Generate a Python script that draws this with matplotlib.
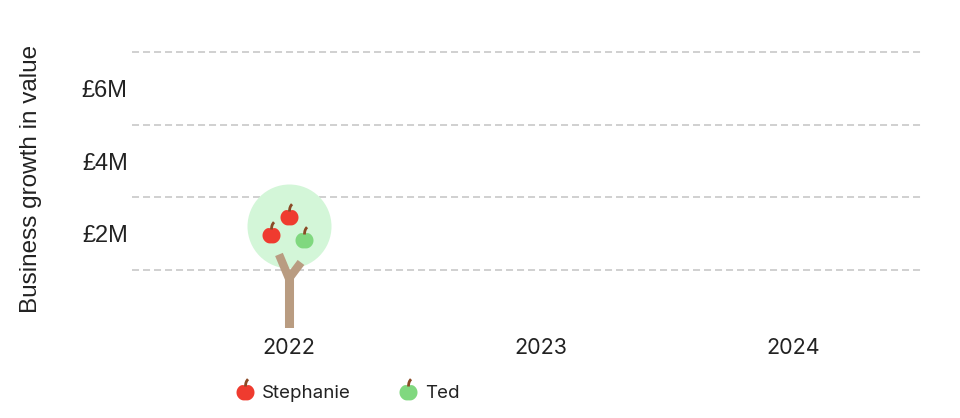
"""Apple-tree chart of business growth in value."""

import matplotlib

matplotlib.use("Agg")

import matplotlib.pyplot as plt
import numpy as np
from matplotlib.legend_handler import HandlerTuple
from matplotlib.lines import Line2D
from matplotlib.path import Path
from matplotlib.transforms import offset_copy

# data
years = ["2022", "2023", "2024"]
tree_values = [2.2, None, None]          # £M, centre of each tree canopy
stephanie_apples = [2, 0, 0]
ted_apples = [1, 0, 0]
value_ticks = [2, 4, 6]
value_tick_labels = ["£2M", "£4M", "£6M"]
grid_levels = [1, 3, 5, 7]
series_names = ["Stephanie", "Ted"]

RED = "#ef3b2f"
GREEN = "#80d87f"
CANOPY = "#d3f6d8"
TRUNK = "#b99c81"
STEM = "#8b4a26"
GRID = "#c4c4c4"
TEXT = "#222222"

# apple spots on the canopy, pixel offsets from the canopy centre
APPLE_SPOTS = [(0, 9), (-17.5, -9), (15.5, -14), (-2, -22), (18, 6)]

FRAME = 1.7  # common marker frame so body and stem line up


def apple_body_path() -> Path:
    theta = np.linspace(0, 2 * np.pi, 120)
    r = 1.0 - 0.16 * np.exp(-((theta - np.pi / 2) / 0.35) ** 2)
    r -= 0.06 * np.exp(-((theta - 3 * np.pi / 2) / 0.3) ** 2)
    verts = np.column_stack([1.05 * r * np.cos(theta), 0.98 * r * np.sin(theta)])
    verts = np.vstack([[FRAME, FRAME], verts, verts[:1]])
    codes = [Path.MOVETO, Path.MOVETO] + [Path.LINETO] * (len(verts) - 3) + [Path.CLOSEPOLY]
    return Path(verts, codes)


def stem_path() -> Path:
    verts = [(FRAME, FRAME), (0.0, 0.7), (0.0, 1.1), (0.1, 1.35), (0.3, 1.55)]
    codes = [Path.MOVETO, Path.MOVETO, Path.CURVE4, Path.CURVE4, Path.CURVE4]
    return Path(verts, codes)


BODY = apple_body_path()
STEM_PATH = stem_path()
APPLE_PX = 18
APPLE_MS = APPLE_PX * 0.72 * FRAME / 1.05


def apple_lines(colour, **kw):
    body = Line2D([], [], marker=BODY, markersize=APPLE_MS, color=colour,
                  markeredgewidth=0, linestyle="none", zorder=5, **kw)
    stem = Line2D([], [], marker=STEM_PATH, markersize=APPLE_MS,
                  markerfacecolor="none", markeredgecolor=STEM, markeredgewidth=2.0,
                  linestyle="none", zorder=6, **kw)
    return body, stem


def draw_apple(ax, x, y, colour, dx=0.0, dy=0.0):
    trans = offset_copy(ax.transData, fig=ax.figure, x=dx, y=dy, units="dots")
    for line in apple_lines(colour, transform=trans):
        line.set_data([x], [y])
        ax.add_line(line)


fig = plt.figure(figsize=(9.6, 4.18), dpi=100)
ax = fig.add_axes([0.1375, 0.215, 0.8229, 0.695])
ax.set_xlim(-0.623, 2.512)
ax.set_ylim(-0.6, 7.4)

for level in grid_levels:
    ax.axhline(level, color=GRID, linewidth=1.1, linestyle=(0, (4.6, 2.6)), zorder=1)

x_pos = np.arange(len(years))
xmin, xmax = ax.get_xlim()
ymin, ymax = ax.get_ylim()
box = ax.get_position()
px_per_y = box.height * fig.get_figheight() * fig.dpi / (ymax - ymin)
px_per_x = box.width * fig.get_figwidth() * fig.dpi / (xmax - xmin)

for x, value, n_steph, n_ted in zip(x_pos, tree_values, stephanie_apples, ted_apples):
    if value is None:
        continue
    ax.scatter([x], [value], s=(84 * 0.72) ** 2, color=CANOPY, linewidths=0, zorder=3)
    # trunk and two branches, measured in pixels from the canopy centre
    fork_y = value - 50 / px_per_y
    ax.plot([x, x], [ymin, fork_y], color=TRUNK, linewidth=6.5,
            solid_capstyle="butt", zorder=4)
    for bx, by in [(-10, -28), (12, -36)]:
        ax.plot([x, x + bx / px_per_x], [fork_y - 2 / px_per_y, value + by / px_per_y],
                color=TRUNK, linewidth=6.0, solid_capstyle="butt", zorder=4)
    colours = [RED] * n_steph + [GREEN] * n_ted
    for colour, (dx, dy) in zip(colours, APPLE_SPOTS):
        draw_apple(ax, x, value, colour, dx=dx, dy=dy)

ax.set_xticks(x_pos, years)
ax.set_yticks(value_ticks, value_tick_labels)
ax.tick_params(axis="x", length=0, pad=7, labelsize=15.5, labelcolor=TEXT,
               labelfontfamily="Inter")
ax.tick_params(axis="y", length=0, pad=3, labelsize=17, labelcolor=TEXT,
               labelfontfamily="Liberation Sans")
for spine in ax.spines.values():
    spine.set_visible(False)
ax.set_ylabel("Business growth in value", fontsize=17.5, family="Liberation Sans",
              color=TEXT)
ax.yaxis.set_label_coords(-0.114, 0.515)

handles = [apple_lines(c) for c in (RED, GREEN)]
leg = fig.legend(handles, series_names, loc="center left", bbox_to_anchor=(0.228, 0.058),
                 ncol=2, frameon=False, handlelength=1.0, handletextpad=0.4,
                 columnspacing=2.55, prop={"family": "Inter", "size": 13.5},
                 handler_map={tuple: HandlerTuple(ndivide=1, pad=0)})
for t in leg.get_texts():
    t.set_color(TEXT)

fig.savefig("out.png", dpi=100)
